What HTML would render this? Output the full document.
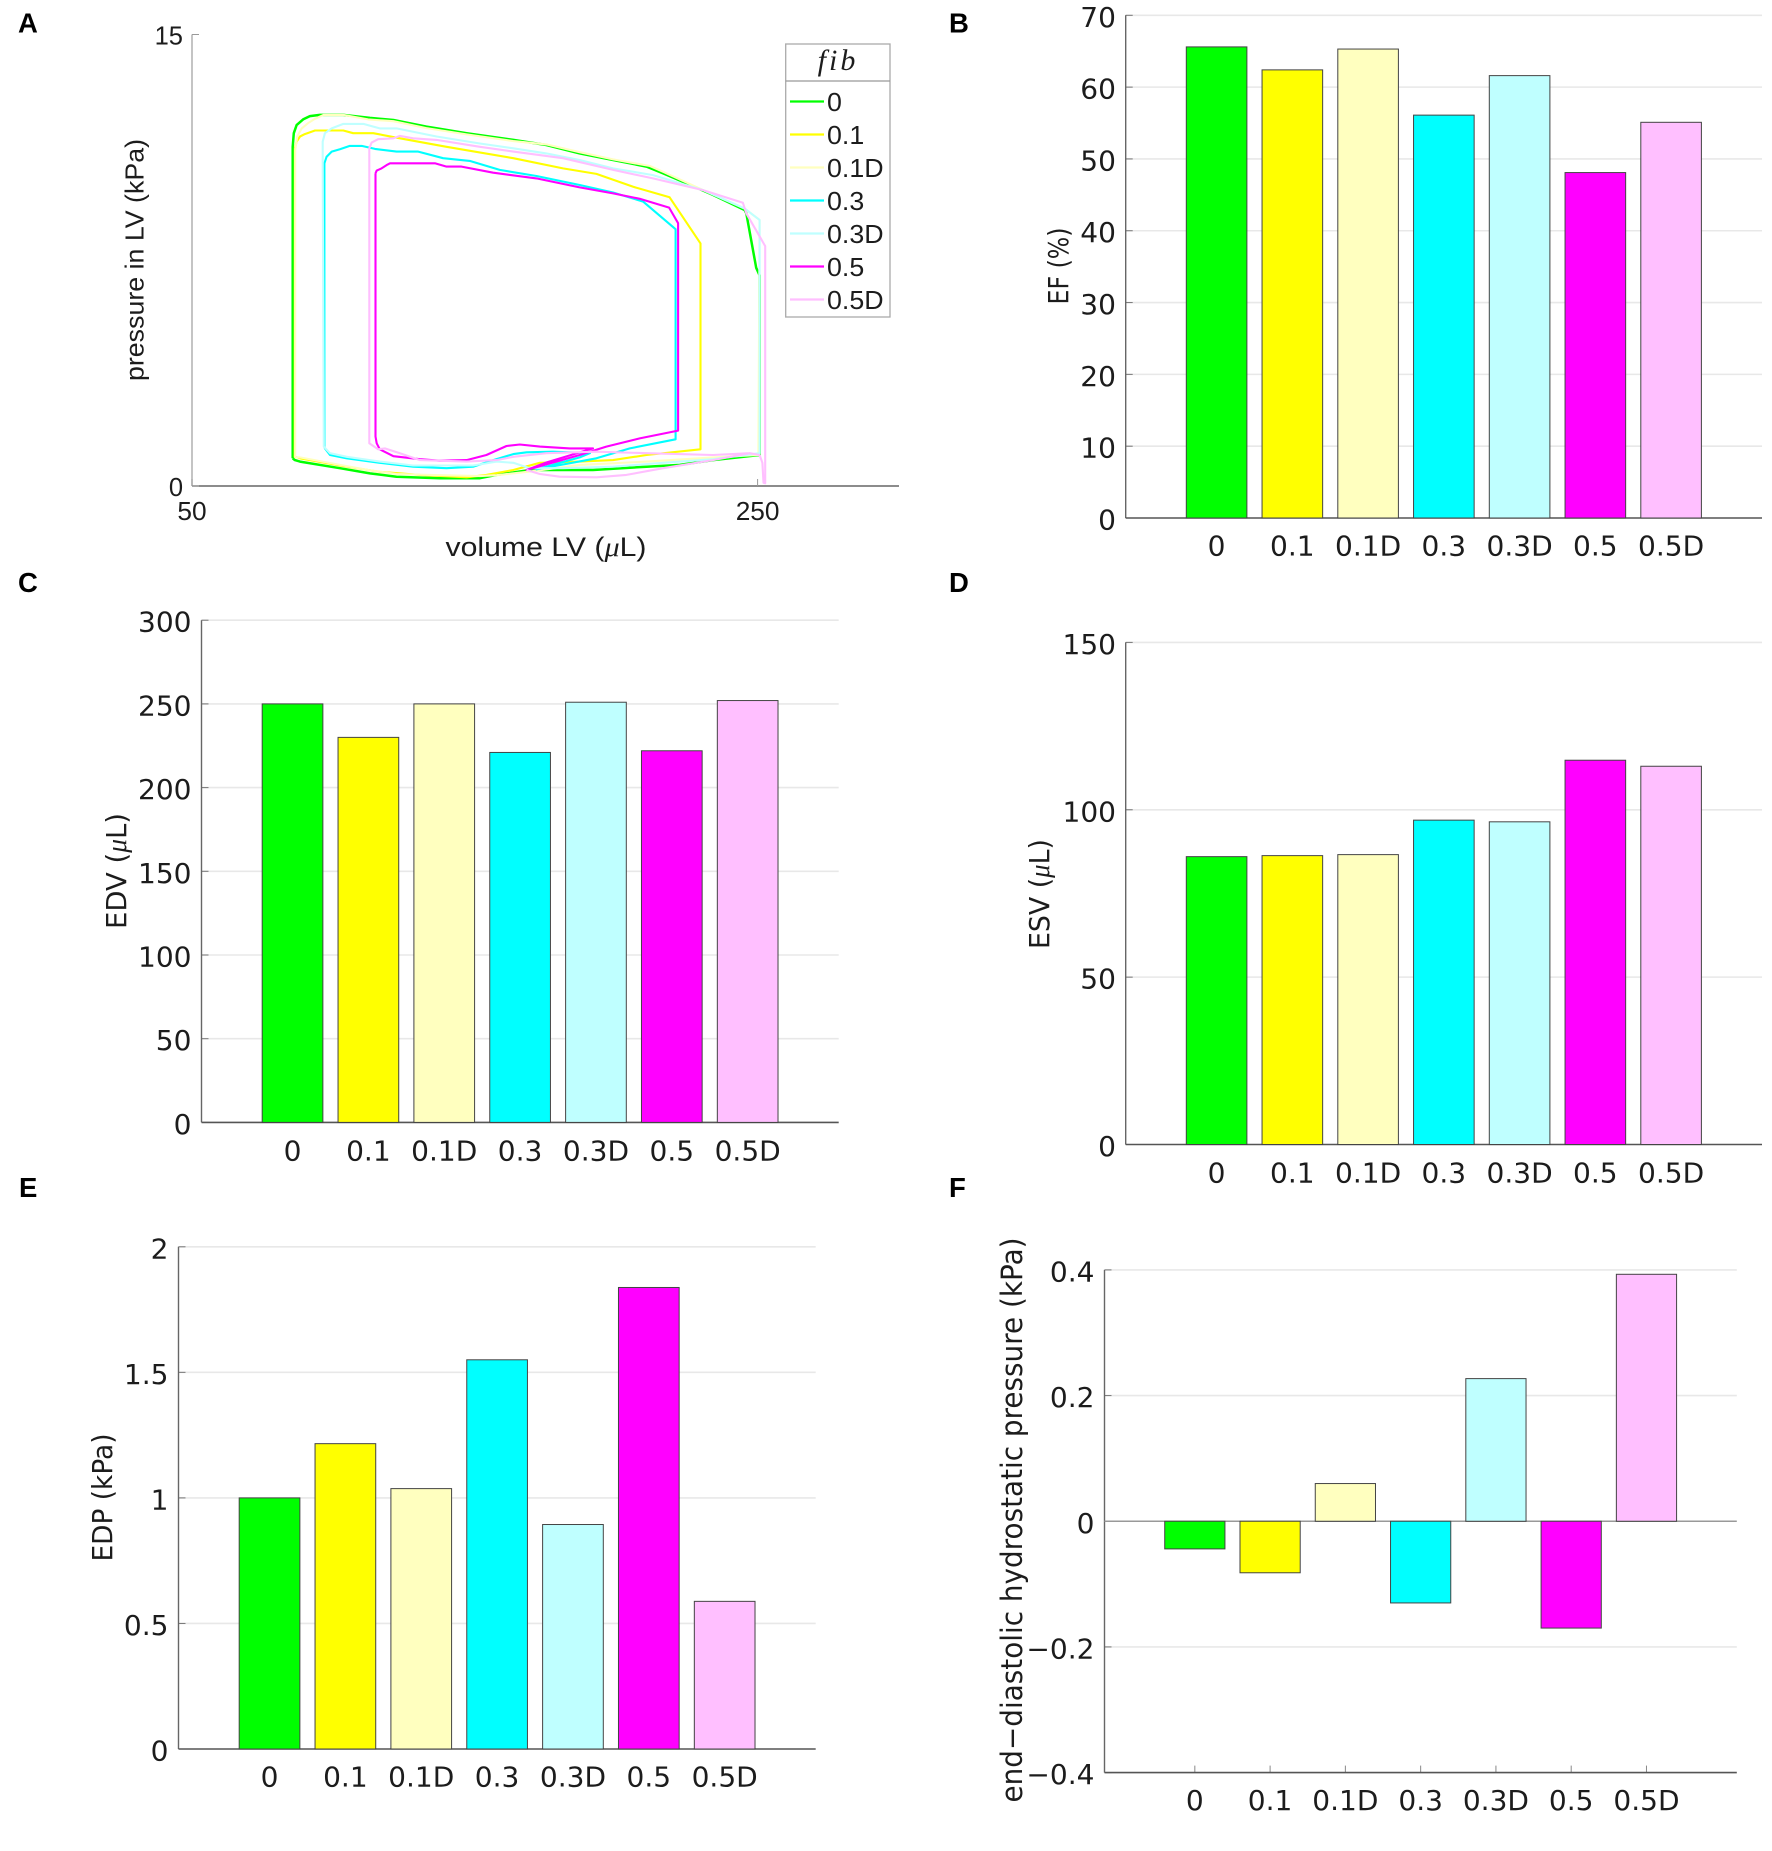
<!DOCTYPE html>
<html lang="en">
<head>
<meta charset="utf-8">
<title>Pressure-volume loops and ventricular metrics</title>
<style>
html,body{margin:0;padding:0;background:#fff;}
body{width:1772px;height:1851px;overflow:hidden;}
svg{display:block;}
text{font-family:"DejaVu Sans","Liberation Sans",sans-serif;fill:#1c1c1c;}
.helv{font-family:"Liberation Sans",sans-serif;}
.panel-letter{font-family:"Liberation Sans",sans-serif;font-weight:bold;font-size:27.5px;fill:#000;}
.mu{font-family:"Liberation Serif",serif;font-style:italic;}
</style>
</head>
<body>
<svg id="figure" xmlns="http://www.w3.org/2000/svg" width="1772" height="1851" viewBox="0 0 1772 1851"></svg>
<script>
// ---- shared categories / colours ----
const categories = ["0","0.1","0.1D","0.3","0.3D","0.5","0.5D"];
const seriesColors = ["#00ff00","#ffff00","#ffffbf","#00ffff","#bfffff","#ff00ff","#ffbfff"];

// ---- bar chart values ----
const efValues = [65.6,62.4,65.3,56.1,61.6,48.1,55.1];
const edvValues = [250,230,250,221,251,222,252];
const esvValues = [86,86.3,86.6,96.9,96.4,114.8,113];
const edpValues = [1.0,1.216,1.037,1.55,0.894,1.838,0.588];
const hydroValues = [-0.044,-0.082,0.06,-0.13,0.227,-0.17,0.393];

// ---- bar chart ticks ----
const efTicks = [0,10,20,30,40,50,60,70];
const edvTicks = [0,50,100,150,200,250,300];
const esvTicks = [0,50,100,150];
const edpTicks = [0,0.5,1,1.5,2];
const hydroTicks = [-0.4,-0.2,0,0.2,0.4];
const hydroTickLabels = ["\u22120.4","\u22120.2","0","0.2","0.4"];

// ---- panel A: pressure-volume loops (volume in uL, pressure in kPa) ----
const pvTicksX = [50,250];
const pvTicksY = [0,15];
const vol0 = [85.6,85.6,86.0,87.0,89.3,91.7,95.2,103.5,112.9,121.2,132.9,147.1,163.6,175.3,187.1,198.9,210.7,216.6,224.8,234.2,245.4,246.0,249.5,250.7,250.7,234.2,222.5,210.7,191.8,169.4,157.7,151.8,137.6,122.3,112.9,102.3,88.2,86.4,85.6];
const pres0 = [0.92,11.27,11.72,11.99,12.18,12.29,12.33,12.33,12.23,12.16,11.94,11.72,11.50,11.33,11.05,10.83,10.61,10.39,10.06,9.67,9.17,9.06,7.25,7.0,1.03,0.86,0.70,0.64,0.53,0.53,0.37,0.26,0.26,0.31,0.42,0.59,0.81,0.86,0.92];
const vol01 = [86.4,87.0,88.2,89.9,93.5,103.5,107.0,114.1,123.5,140.0,163.6,181.2,193.0,206.0,218.9,229.8,229.8,210.7,198.9,187.1,173.0,163.6,154.1,147.1,130.6,116.4,102.3,88.2,86.3,86.4];
const pres01 = [11.22,11.44,11.61,11.69,11.81,11.81,11.72,11.72,11.55,11.27,10.89,10.55,10.37,9.94,9.59,8.06,1.22,1.03,0.86,0.81,0.77,0.53,0.37,0.29,0.37,0.47,0.68,0.92,0.97,11.22];
const vol01D = [86.5,86.5,87.2,88.8,91.0,93.5,96.5,103.5,112.3,121.2,132.9,147.1,163.6,175.3,187.1,198.9,211.9,216.6,230.7,245.4,250.7,250.3,234.2,210.7,187.1,169.4,157.7,151.8,137.6,122.3,112.9,102.3,88.2,86.5];
const pres01D = [0.95,11.16,11.61,11.88,12.05,12.20,12.33,12.33,12.18,12.12,11.89,11.68,11.46,11.35,11.09,10.85,10.63,10.44,9.83,9.22,8.84,1.03,0.95,0.81,0.70,0.48,0.36,0.33,0.36,0.40,0.52,0.70,0.95,0.95];
const vol03 = [96.8,96.8,97.6,99.4,102.3,105.8,110.0,114.7,122.3,130.0,138.8,148.2,158.8,171.8,187.1,198.9,209.5,221.0,221.0,204.8,193.0,171.8,187.1,190.7,177.7,168.3,163.6,156.5,149.4,140.0,128.2,116.4,104.7,98.8,97.0,96.8];
const pres03 = [1.31,10.72,10.94,11.11,11.19,11.30,11.30,11.20,11.11,11.11,10.89,10.80,10.50,10.30,10.00,9.75,9.45,8.53,1.55,1.25,0.92,0.55,0.95,1.09,1.14,1.12,1.06,0.86,0.64,0.59,0.64,0.77,0.92,1.03,1.25,1.31];
const vol03D = [96.2,96.2,97.0,99.4,103.5,110.6,116.4,122.3,136.5,151.8,163.6,175.3,187.1,198.9,213.0,230.7,245.4,250.7,250.7,234.2,216.6,198.9,181.2,169.4,163.6,157.7,149.4,140.0,128.2,116.4,104.7,98.8,96.6,96.2];
const pres03D = [10.83,11.44,11.72,11.88,12.03,12.03,11.88,11.88,11.61,11.38,11.22,11.05,10.83,10.55,10.33,9.83,9.22,8.84,1.09,0.89,0.77,0.64,0.59,0.59,0.77,0.81,0.68,0.68,0.68,0.81,0.97,1.09,1.31,10.83];
const vol05 = [114.9,115.3,117.0,118.8,120.0,135.9,140.0,145.3,156.5,171.8,187.1,198.9,208.3,218.7,221.9,221.9,208.3,196.5,187.1,168.3,175.3,191.8,183.6,173.0,165.9,161.2,154.1,147.1,137.6,130.6,121.2,116.4,115.3,114.9,114.9];
const pres05 = [10.39,10.48,10.55,10.66,10.72,10.72,10.61,10.61,10.41,10.22,9.92,9.72,9.54,9.25,8.73,1.84,1.58,1.31,1.03,0.53,0.78,1.25,1.25,1.31,1.38,1.33,1.03,0.86,0.84,0.89,0.99,1.22,1.42,1.64,10.39];
const vol05D = [168.3,173.0,180.0,193.0,203.6,216.6,234.2,247.2,250.7,251.7,252.1,252.7,252.7,246.0,244.8,230.7,213.0,198.9,181.2,163.6,151.8,136.5,128.2,123.5,121.2,115.8,113.5,112.7,112.7,115.8,118.2,123.5,130.6,147.1,157.7,163.6,175.3,193.0,210.7,234.2,247.2];
const pres05D = [0.53,0.40,0.31,0.29,0.37,0.59,0.86,1.09,1.03,0.77,0.11,0.09,7.97,9.06,9.41,9.83,10.22,10.50,10.89,11.11,11.27,11.50,11.55,11.63,11.55,11.52,11.41,11.22,1.42,1.22,1.25,1.09,0.86,0.81,0.86,0.97,1.09,1.14,1.09,1.03,1.09];
const pvVolumes = [vol0,vol01,vol01D,vol03,vol03D,vol05,vol05D];
const pvPressures = [pres0,pres01,pres01D,pres03,pres03D,pres05,pres05D];

// ---- drawing helpers ----
const NS = "http://www.w3.org/2000/svg";
const root = document.getElementById("figure");

function make(parent, tag, name, attrs) {
  const el = document.createElementNS(NS, tag);
  
  
  for (const k in attrs) el.setAttribute(k, attrs[k]);
  parent.appendChild(el);
  return el;
}
function line(parent, name, x1, y1, x2, y2, color, w) {
  return make(parent, "line", name, {x1:x1, y1:y1, x2:x2, y2:y2, stroke:color, "stroke-width":w});
}
function label(parent, name, str, x, y, anchor, size, sx) {
  const t = make(parent, "text", name, {
    transform:"translate(" + x + "," + y + ") scale(" + sx + ",1)",
    "text-anchor":anchor, "font-size":size
  });
  t.textContent = str;
  return t;
}
function axisTitle(parent, name, parts, cx, cy, size, length, rotated) {
  const t = make(parent, "text", name, {
    transform:"translate(" + cx + "," + cy + ")" + (rotated ? " rotate(-90)" : ""),
    "text-anchor":"middle", "font-size":size,
    textLength:length, lengthAdjust:"spacingAndGlyphs"
  });
  parts.forEach(function (p) {
    const s = document.createElementNS(NS, "tspan");
    if (p.mu) s.setAttribute("class", "mu");
    s.textContent = p.text;
    t.appendChild(s);
  });
  return t;
}
function panelLetter(str, x, y) {
  const t = make(root, "text", "panel-label-" + str.toLowerCase(), {x:x, y:y, "class":"panel-letter"});
  t.textContent = str;
}

// ---- bar panel renderer ----
function barPanel(cfg, values, ticks, tickLabels) {
  const g = make(root, "g", cfg.name, {});
  const yMin = ticks[0], yMax = ticks[ticks.length - 1];
  const yScale = function (v) { return cfg.bottom - (v - yMin) / (yMax - yMin) * (cfg.bottom - cfg.top); };
  const pitch = (cfg.right - cfg.left) / 8.4;
  const xScale = function (i) { return cfg.left + (i + 1.2) * pitch; };
  const zero = yScale(Math.max(0, yMin));

  ticks.forEach(function (t, i) {
    const y = yScale(t);
    if (t !== yMin && t !== 0) {
      line(g, "gridline", cfg.left, y, cfg.right, y, "#e8e8e8", 1.6);
    }
    line(g, "y-tick", cfg.left, y, cfg.left + 7, y, "#777", 1);
    label(g, "y-tick-label", tickLabels[i], cfg.labelRight, y + 11.5, "end", 27.5, 1.02);
  });
  categories.forEach(function (c, i) {
    line(g, "x-tick", xScale(i), cfg.bottom, xScale(i), cfg.bottom - 7, "#888", 1);
  });
  line(g, "y-axis", cfg.left, cfg.top, cfg.left, cfg.bottom, "#666", 1.4);
  line(g, "x-axis", cfg.left, cfg.bottom, cfg.right, cfg.bottom, "#555", 1.6);
  if (yMin < 0) line(g, "zero-line", cfg.left, zero, cfg.right, zero, "#999", 1.4);

  values.forEach(function (v, i) {
    const y = yScale(v);
    make(g, "rect", "bar-" + categories[i].replace(".", "-").toLowerCase(), {
      x: xScale(i) - 0.4 * pitch,
      y: Math.min(y, zero),
      width: 0.8 * pitch,
      height: Math.abs(zero - y),
      fill: seriesColors[i],
      stroke: "#444",
      "stroke-width": 1
    });
    label(g, "x-tick-label", categories[i], xScale(i), cfg.labelY, "middle", 27.5, 1.02);
  });
  axisTitle(g, "y-axis-title", cfg.title, cfg.titleX, cfg.titleY, cfg.titleSize, cfg.titleLen, true);
}

// ---- panel A ----
function pvPanel() {
  const g = make(root, "g", "pressure-volume-panel", {});
  const left = 192, right = 899, top = 34.5, bottom = 486;
  const xScale = function (v) { return left + (v - 50) * (right - left) / 250; };
  const yScale = function (p) { return bottom - p * (bottom - top) / 15; };

  line(g, "y-axis", left, top, left, bottom, "#b0b0b0", 1.5);
  line(g, "x-axis", left, bottom, right, bottom, "#666", 1.4);
  pvTicksY.forEach(function (t) {
    line(g, "y-tick", left, yScale(t), left + 7, yScale(t), "#999", 1);
    label(g, "y-tick-label", String(t), 183, yScale(t) + 10, "end", 25.5, 1.0).setAttribute("class", "helv");
  });
  pvTicksX.forEach(function (t) {
    line(g, "x-tick", xScale(t), bottom, xScale(t), bottom - 7, "#999", 1);
    label(g, "x-tick-label", String(t), xScale(t), 520, "middle", 25.5, 1.03).setAttribute("class", "helv");
  });
  axisTitle(g, "y-axis-title", [{text:"pressure in LV (kPa)"}], 143.5, 260, 26, 242, true).setAttribute("class", "helv");
  axisTitle(g, "x-axis-title", [{text:"volume LV ("},{text:"\u03bc",mu:true},{text:"L)"}], 546, 556, 27, 201, false).setAttribute("class", "helv");

  pvVolumes.forEach(function (vols, s) {
    const pts = vols.map(function (v, i) { return xScale(v).toFixed(1) + "," + yScale(pvPressures[s][i]).toFixed(1); }).join(" ");
    make(g, "polyline", "pv-loop-" + categories[s].replace(".", "-").toLowerCase(), {
      points: pts, fill: "none", stroke: seriesColors[s],
      "stroke-width": s === 0 ? 2.5 : 2.1, "stroke-linejoin": "round"
    });
  });

  const lg = make(g, "g", "legend", {});
  make(lg, "rect", "legend-box", {x:785.7, y:44, width:104.3, height:273, fill:"#fff", stroke:"#aaa", "stroke-width":1.3});
  line(lg, "legend-header-rule", 785.7, 81, 890, 81, "#999", 1.3);
  const title = make(lg, "text", "legend-title", {
    x:838, y:70, "text-anchor":"middle", "font-size":30,
    style:'font-family:"Liberation Serif",serif;font-style:italic;letter-spacing:3px;'
  });
  title.textContent = "fib";
  categories.forEach(function (c, i) {
    const base = 111 + i * 33;
    line(lg, "legend-swatch-" + c.replace(".", "-").toLowerCase(), 790, base - 9.5, 824, base - 9.5, seriesColors[i], 2.2);
    label(lg, "legend-entry-" + c.replace(".", "-").toLowerCase(), c, 827, base, "start", 26, 1.03).setAttribute("class", "helv");
  });
}

pvPanel();

barPanel({name:"ef-panel", left:1125.7, right:1762, top:15.3, bottom:518, labelRight:1116, labelY:555.5,
  title:[{text:"EF (%)"}], titleX:1068, titleY:266, titleSize:28, titleLen:77}, efValues, efTicks, efTicks.map(String));

barPanel({name:"edv-panel", left:201.5, right:838.7, top:620.2, bottom:1122.4, labelRight:191.5, labelY:1160.5,
  title:[{text:"EDV ("},{text:"\u03bc",mu:true},{text:"L)"}], titleX:126, titleY:871, titleSize:28, titleLen:116}, edvValues, edvTicks, edvTicks.map(String));

barPanel({name:"esv-panel", left:1125.7, right:1762, top:642.4, bottom:1144.5, labelRight:1116, labelY:1182.5,
  title:[{text:"ESV ("},{text:"\u03bc",mu:true},{text:"L)"}], titleX:1049, titleY:894, titleSize:28, titleLen:110}, esvValues, esvTicks, esvTicks.map(String));

barPanel({name:"edp-panel", left:178.5, right:815.7, top:1246.8, bottom:1749, labelRight:168.5, labelY:1786.5,
  title:[{text:"EDP (kPa)"}], titleX:112, titleY:1497.5, titleSize:28, titleLen:128}, edpValues, edpTicks, edpTicks.map(String));

barPanel({name:"hydrostatic-panel", left:1104.5, right:1736.8, top:1269.9, bottom:1772.6, labelRight:1094.5, labelY:1810,
  title:[{text:"end\u2212diastolic hydrostatic pressure (kPa)"}], titleX:1022, titleY:1520, titleSize:29, titleLen:565}, hydroValues, hydroTicks, hydroTickLabels);

panelLetter("A", 18, 32.5);
panelLetter("B", 949, 32.5);
panelLetter("C", 18, 592);
panelLetter("D", 949, 592);
panelLetter("E", 19, 1197);
panelLetter("F", 949, 1197);
</script>
</body>
</html>
